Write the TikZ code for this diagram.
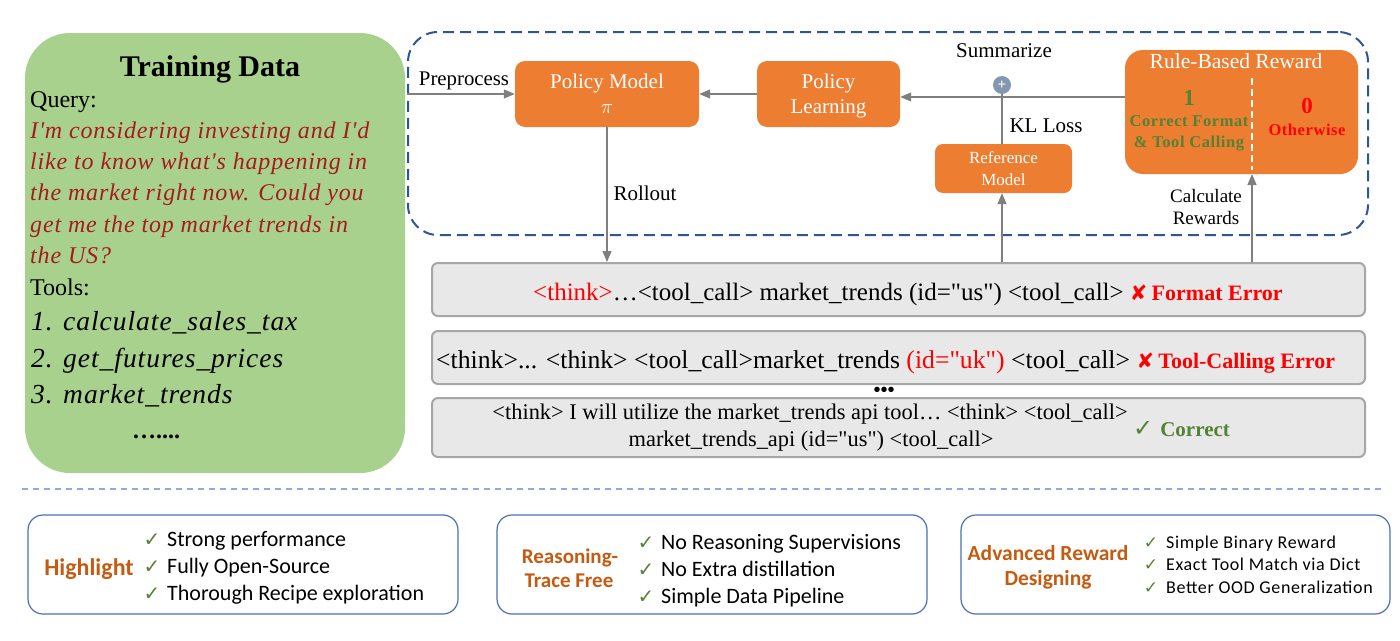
\documentclass[tikz,border=0pt]{standalone}
\usepackage{fontspec}
\setmainfont{Liberation Serif}
\newfontfamily\tms{Liberation Serif}
\newfontfamily\qfont{Liberation Serif}[LetterSpace=3.5]
\newfontfamily\tfont{Liberation Serif}[LetterSpace=3.5]
\newfontfamily\calib{Carlito}
\newfontfamily\calibS{Carlito}[LetterSpace=3.5]
\newfontfamily\djv{DejaVu Sans}
\usetikzlibrary{arrows.meta,calc}
\definecolor{greenbox}{HTML}{A9D18E}
\definecolor{orng}{HTML}{ED7D31}
\definecolor{dblue}{HTML}{2F5597}
\definecolor{lblue}{HTML}{8FAADC}
\definecolor{qred}{HTML}{A61C1C}
\definecolor{rgreen}{HTML}{548235}
\definecolor{plusc}{HTML}{8497B0}
\definecolor{respfill}{HTML}{E8E8E8}
\definecolor{respline}{HTML}{A6A6A6}
\definecolor{arr}{HTML}{7F7F7F}
\definecolor{hlor}{HTML}{C55A11}
\definecolor{boxb}{HTML}{4A6FB5}
\newcommand{\fs}[1]{\fontsize{#1}{#1}\selectfont}
\tikzset{
  obox/.style={fill=orng, rounded corners=10pt, text=white, align=center, inner sep=0pt},
  resp/.style={fill=respfill, draw=respline, line width=2pt, rounded corners=6pt, minimum width=933pt, inner sep=0pt},
  garrow/.style={draw=arr, line width=1.3pt, -{Triangle[length=11pt,width=9pt]}},
  gline/.style={draw=arr, line width=1.3pt},
  lbl/.style={inner sep=0pt, anchor=base, font=\fs{21}},
  featbox/.style={draw=boxb, line width=1.2pt, rounded corners=15pt, minimum width=430pt, minimum height=99pt, inner sep=0pt},
  chk/.style={inner sep=0pt, anchor=base, text=rgreen, font=\djv\fs{20}},
  item/.style={inner sep=0pt, anchor=base west, font=\calib\fs{22}},
  itemS/.style={inner sep=0pt, anchor=base west, font=\calibS\fs{18}},
  hl/.style={inner sep=0pt, anchor=base, text=hlor, font=\calib\bfseries\fs{24}, align=center},
  qt/.style={inner sep=0pt, anchor=base west},
  qr/.style={qt, font=\qfont\itshape\fs{24}, text=qred},
  tli/.style={qt, font=\tfont\itshape\fs{27.5}},
}
\begin{document}
\begin{tikzpicture}[x=1pt,y=-1pt]
\useasboundingbox (0,0) rectangle (1400,640);
% training data box
\node[fill=greenbox, rounded corners=45pt, minimum width=380pt, minimum height=440pt, inner sep=0pt] (td) at (215,253) {};
\node[qt, anchor=base, font=\bfseries\fs{30}] (tdt) at (210,76) {Training Data};
\node[qt, font=\fs{24}] (q) at (30,107) {Query:};
\node[qr] (q1) at (30,138) {I'm considering investing and I'd};
\node[qr] (q2) at (30,169) {like to know what's happening in};
\node[qr] (q3) at (30,200) {the market right now. Could you};
\node[qr] (q4) at (30,232) {get me the top market trends in};
\node[qr] (q5) at (30,263) {the US?};
\node[qt, font=\fs{24}] (tl) at (30,295) {Tools:};
\node[tli] (t1) at (31,330) {1. calculate\_sales\_tax};
\node[tli] (t2) at (31,367) {2. get\_futures\_prices};
\node[tli] (t3) at (31,403) {3. market\_trends};
\node[qt, font=\bfseries\fs{24}] (dots) at (132,438) {…....};
% dashed frame
\node[draw=dblue, line width=2pt, dash pattern=on 11pt off 6pt, rounded corners=30pt, minimum width=960pt, minimum height=203pt, inner sep=0pt] (frame) at (888,133.5) {};
% boxes
\node[obox, minimum width=184pt, minimum height=66pt] (pm) at (607,94) {};
\node[lbl, text=white] at (607,88) {Policy Model};
\node[lbl, text=white] at (607,113) {$\pi$};
\node[obox, minimum width=143pt, minimum height=66pt] (pl) at (828.5,94) {};
\node[lbl, text=white] at (828.5,88) {Policy};
\node[lbl, text=white] at (828.5,113) {Learning};
\node[obox, minimum width=137pt, minimum height=49pt, rounded corners=8pt] (ref) at (1003.5,168.5) {};
\node[lbl, text=white, font=\fs{17}] at (1003.5,163) {Reference};
\node[lbl, text=white, font=\fs{17}] at (1003.5,185) {Model};
\node[obox, minimum width=233pt, minimum height=124pt, rounded corners=18pt] (rule) at (1241.5,112) {};
\node[lbl, text=white, font=\fs{21.5}] at (1236,68) {Rule-Based Reward};
\coordinate (div) at (1252,174);
\draw[white, line width=1.8pt, dash pattern=on 7pt off 4pt] (1252,78) -- (1252,170);
\node[lbl, text=rgreen, font=\bfseries\fs{23}] at (1189,105) {1};
\node[lbl, text=rgreen, font=\tfont\bfseries\fs{16.5}] at (1189,126) {Correct Format};
\node[lbl, text=rgreen, font=\tfont\bfseries\fs{16.5}] at (1189,147) {\& Tool Calling};
\node[lbl, text=red, font=\bfseries\fs{23}] at (1307,113) {0};
\node[lbl, text=red, font=\tfont\bfseries\fs{16.5}] at (1307,135) {Otherwise};
% plus
\node[circle, fill=plusc, minimum size=18pt, inner sep=0pt, text=white, font=\bfseries\fs{15}] (plus) at (1002,85) {+};
\node[lbl] at (1004,57) {Summarize};
% response boxes
\node[resp, minimum height=53pt] (r1) at (898.5,289.5) {};
\node[resp, minimum height=53pt] (r2) at (898.5,357.5) {};
\node[resp, minimum height=59pt] (r3) at (898.5,427.5) {};
\node[inner sep=0pt, anchor=base west, font=\tms\fs{25}] (r1t) at (533,300) {\textcolor{red}{<think>}…<tool\_call> market\_trends (id="us") <tool\_call> \textcolor{red}{{\djv\fs{21}✘}\,\textbf{\fs{22}Format Error}}};
\node[inner sep=0pt, anchor=base west, font=\tms\fs{25.7}] (r2t) at (436,368) {<think>... <think> <tool\_call>market\_trends \textcolor{red}{(id="uk")} <tool\_call> \textcolor{red}{{\djv\fs{21}✘}\,\textbf{\fs{22}Tool-Calling Error}}};
\node[inner sep=0pt, anchor=base, font=\bfseries\fs{20}] (ell) at (884,396) {•••};
\node[inner sep=0pt, anchor=base, font=\tms\fs{22.4}] (r3a) at (810,419) {<think> I will utilize the market\_trends api tool… <think> <tool\_call>};
\node[inner sep=0pt, anchor=base, font=\tms\fs{22.4}] (r3b) at (811,446) {market\_trends\_api (id="us") <tool\_call>};
\node[inner sep=0pt, anchor=base west, text=rgreen, font=\fs{21}] (r3c) at (1133,436) {{\djv\fs{24}✓}\,\,\textbf{Correct}};
% arrows
\coordinate (pre) at (407,94);
\draw[garrow] (pre) -- (pm.west);
\node[lbl, font=\fs{20.8}] at (464,85) {Preprocess};
\draw[garrow] (pl.west) -- (pm.east);
\coordinate (hl) at (1123,97);
\draw[garrow] (rule.west |- hl) -- (pl.east |- hl);
\draw[gline] (ref.north -| plus) -- (plus.south);
\node[lbl] at (1046,132) {KL Loss};
\draw[garrow] (pm.south) -- (pm.south |- r1.north);
\node[lbl] at (645,200) {Rollout};
\draw[garrow] (r1.north -| plus) -- (ref.south -| plus);
\draw[garrow] (r1.north -| div) -- (div);
\node[lbl, font=\fs{19}] at (1206,202) {Calculate};
\node[lbl, font=\fs{19}] at (1206,224) {Rewards};
% separator
\draw[lblue, line width=1.5pt, dash pattern=on 6pt off 5pt] (22,489) -- (1385,489);
% feature boxes
\node[featbox] (f1) at (243,564.5) {};
\node[featbox] (f2) at (712,564.5) {};
\node[featbox, minimum width=429pt] (f3) at (1175.5,564.5) {};
\node[hl] at (89,575) {Highlight};
\node[chk] at (152,546) {✓};
\node[chk] at (152,573) {✓};
\node[chk] at (152,600) {✓};
\node[item] at (167,546) {Strong performance};
\node[item] at (167,573) {Fully Open-Source};
\node[item] at (167,600) {Thorough Recipe exploration};
\node[hl, font=\calib\bfseries\fs{21}] at (570,563) {Reasoning-};
\node[hl, font=\calib\bfseries\fs{21}] at (569,587) {Trace Free};
\node[chk] at (646,549) {✓};
\node[chk] at (646,576) {✓};
\node[chk] at (646,603) {✓};
\node[item] at (661,549) {No Reasoning Supervisions};
\node[item] at (661,576) {No Extra distillation};
\node[item] at (661,603) {Simple Data Pipeline};
\node[hl, font=\calib\bfseries\fs{21.5}] at (1048,560) {Advanced Reward};
\node[hl, font=\calib\bfseries\fs{21.5}] at (1048,585) {Designing};
\node[chk, font=\djv\fs{17}] at (1151,548) {✓};
\node[chk, font=\djv\fs{17}] at (1151,570) {✓};
\node[chk, font=\djv\fs{17}] at (1151,593) {✓};
\node[itemS] at (1166,548) {Simple Binary Reward};
\node[itemS] at (1166,570) {Exact Tool Match via Dict};
\node[itemS] at (1166,593) {Better OOD Generalization};
\end{tikzpicture}
\end{document}
